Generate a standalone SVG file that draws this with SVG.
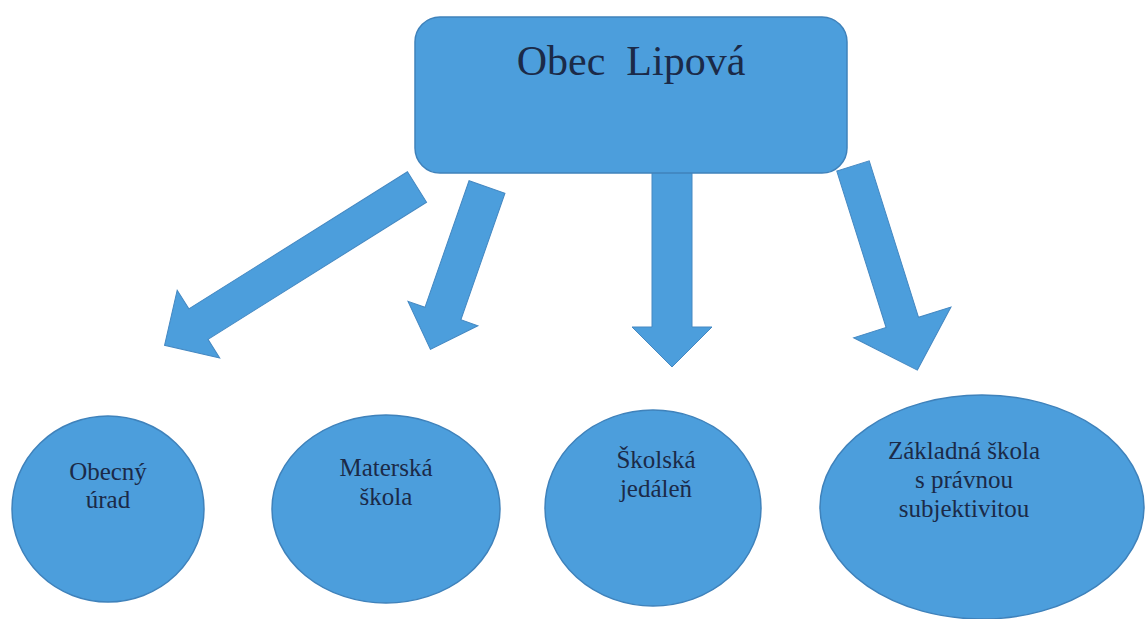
<svg xmlns="http://www.w3.org/2000/svg" width="1146" height="619" viewBox="0 0 1146 619">
<style>
.shape{fill:#4c9edc;stroke:#3f82bb;stroke-width:1.5}
.arrow{fill:#4c9edc;stroke:#4488c2;stroke-width:1}
.lbl{font-family:"Liberation Serif","Times New Roman",Times,Tinos,"Noto Serif","DejaVu Serif",FreeSerif,serif;fill:#1b2a48;text-anchor:middle}
.big{font-size:42px;white-space:pre}
.sm{font-size:25px}
</style>
<rect width="1146" height="619" fill="#ffffff"/>
<g id="connectors">
<polygon class="arrow" transform="translate(417,187) rotate(147.9)" points="0,-18 258,-18 258,-40 298,0 258,40 258,18 0,18"/>
<polygon class="arrow" transform="translate(487,187) rotate(109.2)" points="0,-19 134,-19 134,-37 172,0 134,37 134,19 0,19"/>
<polygon class="arrow" transform="translate(672,160) rotate(90)" points="0,-20 167,-20 167,-40 207,0 167,40 167,20 0,20"/>
<polygon class="arrow" transform="translate(853,166) rotate(72.5)" points="0,-17 164,-17 164,-51 214,0 164,51 164,17 0,17"/>
</g>
<g id="obec-lipova">
<rect class="shape" x="415" y="17" width="432" height="156" rx="25" ry="25"/>
<text class="lbl big" x="631" y="75">Obec  Lipová</text>
</g>
<g id="obecny-urad">
<ellipse class="shape" cx="108" cy="509" rx="96" ry="93"/>
<text class="lbl sm" x="108" y="480">Obecný</text>
<text class="lbl sm" x="108" y="508">úrad</text>
</g>
<g id="materska-skola">
<ellipse class="shape" cx="386" cy="509" rx="114" ry="94"/>
<text class="lbl sm" x="386" y="476">Materská</text>
<text class="lbl sm" x="386" y="505">škola</text>
</g>
<g id="skolska-jedalen">
<ellipse class="shape" cx="653" cy="508" rx="108" ry="98"/>
<text class="lbl sm" x="656" y="468">Školská</text>
<text class="lbl sm" x="656" y="497">jedáleň</text>
</g>
<g id="zakladna-skola">
<ellipse class="shape" cx="982" cy="507" rx="162" ry="112"/>
<text class="lbl sm" x="964" y="459">Základná škola</text>
<text class="lbl sm" x="964" y="488">s právnou</text>
<text class="lbl sm" x="964" y="517">subjektivitou</text>
</g>
</svg>
